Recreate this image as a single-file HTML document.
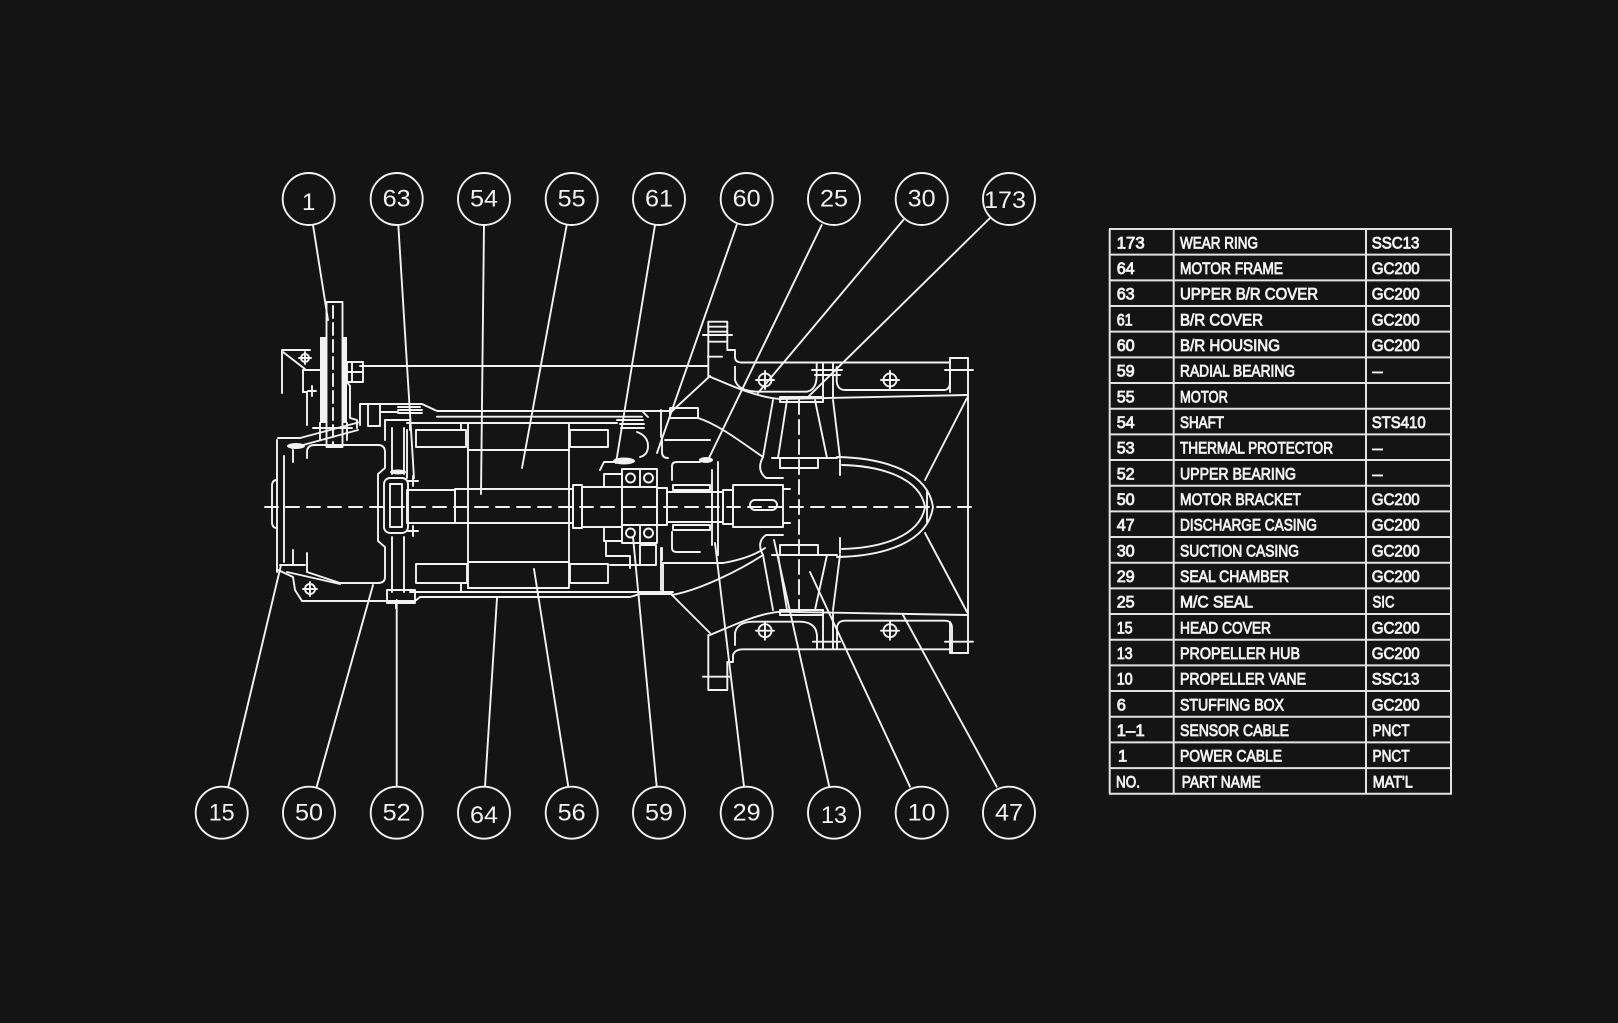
<!DOCTYPE html>
<html><head><meta charset="utf-8"><style>
html,body{margin:0;padding:0;background:#141414;}
svg{display:block;}
text{font-family:"Liberation Sans",Arial,sans-serif;fill:#f2f2f2;}
</style></head><body>
<svg width="1618" height="1023" viewBox="0 0 1618 1023" xmlns="http://www.w3.org/2000/svg">
<rect width="1618" height="1023" fill="#141414"/>
<g fill="none" stroke="#f2f2f2" stroke-width="1.9" stroke-linejoin="round" stroke-linecap="round">
<!-- circles top -->
<circle cx="308.7" cy="199" r="26"/><circle cx="396.7" cy="199" r="26"/><circle cx="484" cy="199" r="26"/>
<circle cx="571.7" cy="199" r="26"/><circle cx="659" cy="199" r="26"/><circle cx="746.7" cy="199" r="26"/>
<circle cx="834" cy="199" r="26"/><circle cx="921.7" cy="199" r="26"/><circle cx="1009" cy="199" r="26"/>
<!-- circles bottom -->
<circle cx="221.7" cy="812.7" r="26"/><circle cx="309" cy="812.7" r="26"/><circle cx="396.7" cy="812.7" r="26"/>
<circle cx="484" cy="812.7" r="26"/><circle cx="571.7" cy="812.7" r="26"/><circle cx="659" cy="812.7" r="26"/>
<circle cx="746.7" cy="812.7" r="26"/><circle cx="834" cy="812.7" r="26"/><circle cx="921.7" cy="812.7" r="26"/>
<circle cx="1009" cy="812.7" r="26"/>
<!-- leaders top -->
<line x1="313" y1="225" x2="328" y2="320"/>
<line x1="398.3" y1="225" x2="414" y2="478"/>
<line x1="484" y1="225" x2="481" y2="494"/>
<line x1="566.7" y1="225" x2="522" y2="468"/>
<line x1="655" y1="225" x2="616" y2="463"/>
<line x1="736.7" y1="225" x2="657" y2="453"/>
<line x1="821.7" y1="225" x2="708" y2="460"/>
<line x1="903.3" y1="220" x2="758" y2="393"/>
<line x1="990" y1="218" x2="807" y2="398"/>
<!-- leaders bottom -->
<line x1="228.3" y1="786.7" x2="281" y2="565"/>
<line x1="316.7" y1="786.7" x2="373" y2="585"/>
<line x1="396.7" y1="786.7" x2="396.7" y2="600"/>
<line x1="485" y1="786.7" x2="497" y2="598"/>
<line x1="568.3" y1="786.7" x2="534" y2="569"/>
<line x1="656.7" y1="786.7" x2="633" y2="537"/>
<line x1="744" y1="786.7" x2="715" y2="543"/>
<line x1="829.3" y1="786.7" x2="774" y2="540"/>
<line x1="910" y1="786.7" x2="810" y2="572"/>
<line x1="996.7" y1="786.7" x2="903" y2="615"/>

<!-- centerline -->
<line x1="265" y1="507" x2="977" y2="507" stroke-dasharray="13 8"/>

<!-- cable gland -->
<rect x="326.5" y="302" width="16" height="145"/>
<line x1="333" y1="306" x2="333" y2="444" stroke-dasharray="12 5"/>
<rect x="347" y="362" width="16" height="20"/>
<line x1="352" y1="362" x2="352" y2="382"/><line x1="347" y1="372" x2="363" y2="372"/>
<polyline points="282,393 282,350 310,350"/>
<line x1="283" y1="352" x2="305" y2="369"/>
<circle cx="305" cy="358" r="4"/><line x1="299" y1="358" x2="311" y2="358"/><line x1="305" y1="352" x2="305" y2="364"/>
<polyline points="303,392 303,370 320,370"/>
<polyline points="303,392 307,392 307,425"/>
<line x1="312" y1="386" x2="312" y2="396"/><line x1="308" y1="391" x2="316" y2="391"/>
<polyline points="347,382 350,386 350,418 357,420 357,428"/>
<line x1="320" y1="423" x2="320" y2="440"/><line x1="347" y1="423" x2="347" y2="440"/>
<line x1="313" y1="428" x2="352" y2="428"/>

<!-- top long line -->
<line x1="360" y1="366" x2="708" y2="366"/>

<!-- upper B/R cover & frame top -->
<polyline points="360,425 360,404 422,404 437,411 642,411 648,417"/>
<line x1="437" y1="416.7" x2="642" y2="416.7"/>
<line x1="407" y1="423" x2="617" y2="423"/>
<rect x="368" y="404" width="12" height="22"/>
<line x1="380" y1="412" x2="398" y2="412"/>
<line x1="398" y1="407" x2="420" y2="407"/><line x1="398" y1="410" x2="422" y2="410"/><line x1="398" y1="413" x2="422" y2="413"/>
<line x1="617" y1="420" x2="643" y2="420"/><line x1="620" y1="424" x2="644" y2="424"/><line x1="621" y1="428" x2="644" y2="428"/>
<path d="M637,432 Q648,436 648,446 Q648,455 640,457"/>

<!-- head cover -->
<line x1="277" y1="440" x2="277" y2="572"/>
<line x1="284" y1="456" x2="284" y2="562"/>
<path d="M277,480 Q272,480 272,486 V522 Q272,528 277,528"/>
<polyline points="278,438 300,438 360,422"/>
<line x1="292" y1="448" x2="358" y2="430"/>
<path d="M307,458 V452 Q307,445 315,445 H378 Q385,445 385,452 V468 L378,474 V541 L385,547 V577 Q385,583 378,583 H340 L307,572 V553"/>
<line x1="293" y1="450" x2="293" y2="462"/><line x1="293" y1="550" x2="293" y2="565"/>
<polyline points="278,570 293,577 295,590 302,601 415,601"/>
<line x1="287" y1="572" x2="340" y2="584"/>
<line x1="280" y1="565" x2="305" y2="565"/>
<circle cx="310" cy="589" r="5"/><line x1="303" y1="589" x2="317" y2="589"/><line x1="310" y1="582" x2="310" y2="596"/>

<!-- motor bracket & upper bearing -->
<line x1="392" y1="428" x2="392" y2="474"/><line x1="404" y1="428" x2="404" y2="474"/>
<line x1="392" y1="537" x2="392" y2="592"/><line x1="404" y1="537" x2="404" y2="592"/>
<polyline points="385,440 385,420 410,420 410,430"/>
<line x1="407" y1="430" x2="407" y2="478"/>
<rect x="384" y="478" width="24" height="55" rx="6"/>
<rect x="390" y="484" width="12" height="43"/>
<line x1="408" y1="481" x2="418" y2="481"/><line x1="408" y1="531" x2="418" y2="531"/>
<line x1="413" y1="476" x2="413" y2="486"/><line x1="413" y1="526" x2="413" y2="536"/>
<rect x="387" y="590" width="28" height="13"/>
<line x1="396" y1="603" x2="396" y2="608"/>

<!-- motor frame bottom -->
<line x1="410" y1="592" x2="633" y2="592"/>
<polyline points="415,601 420,597 630,597 640,594 672,594"/>

<!-- stator / rotor -->
<rect x="468" y="423" width="101" height="165"/>
<line x1="468" y1="450" x2="569" y2="450"/>
<line x1="468" y1="562" x2="569" y2="562"/>
<rect x="455" y="489" width="118" height="34"/>
<rect x="573" y="485" width="9" height="43"/>
<rect x="416" y="430" width="50" height="17"/>
<rect x="570" y="430" width="38" height="17"/>
<rect x="416" y="564" width="51" height="19"/>
<rect x="570" y="564" width="38" height="19"/>
<line x1="461" y1="423" x2="461" y2="430"/><line x1="461" y1="583" x2="461" y2="592"/>

<!-- shaft -->
<rect x="407" y="490" width="48" height="33"/>
<rect x="582" y="487" width="40" height="40"/>
<rect x="622" y="469" width="35" height="74"/>
<line x1="622" y1="487" x2="657" y2="487"/><line x1="622" y1="525" x2="657" y2="525"/>
<line x1="640" y1="469" x2="640" y2="487"/><line x1="640" y1="525" x2="640" y2="543"/>
<circle cx="630.5" cy="478" r="4.5"/><circle cx="648.5" cy="478" r="4.5"/>
<circle cx="630.5" cy="533" r="4.5"/><circle cx="648.5" cy="533" r="4.5"/>
<rect x="657" y="488" width="10" height="37"/>
<rect x="667" y="492" width="56" height="30"/>
<rect x="723" y="490" width="10" height="34"/>
<rect x="733" y="485" width="50" height="42"/>
<rect x="750" y="500" width="27" height="10" rx="5"/>
<line x1="783" y1="489" x2="790" y2="489"/><line x1="783" y1="523" x2="790" y2="523"/>

<!-- bearing housing bits -->
<rect x="604" y="474" width="18" height="13"/>
<rect x="604" y="527" width="18" height="14"/>
<polyline points="600,470 604,462 622,462"/>
<polyline points="606,541 606,556 630,556 630,568"/>
<line x1="610" y1="565" x2="640" y2="565"/>
<rect x="640" y="545" width="16" height="20"/>
<line x1="661" y1="410" x2="661" y2="437"/>
<line x1="661" y1="548" x2="661" y2="590"/>
<line x1="663" y1="563" x2="663" y2="593"/>
<line x1="590" y1="592" x2="673" y2="592"/>
<polyline points="663,563 723,563"/>
<path d="M723,563 C740,560 755,555 765,548"/>
<rect x="670" y="408" width="28" height="10"/>
<line x1="640" y1="411" x2="670" y2="411"/>
<line x1="665" y1="440" x2="710" y2="440"/>
<path d="M698,418 C720,425 745,445 763,457"/>
<path d="M672,480 V466 Q672,462 677,462 H700"/>
<path d="M672,532 V548 Q672,552 677,552 H700"/>
<rect x="673" y="485" width="37" height="5"/>
<rect x="673" y="525" width="37" height="5"/>
<line x1="718" y1="462" x2="718" y2="555"/>
<line x1="712" y1="470" x2="712" y2="545"/>
<path d="M662,437 V452 Q662,458 668,458"/>
<path d="M662,548 V560"/>

<!-- bell -->
<line x1="670" y1="413" x2="710" y2="376"/>
<path d="M672,595 C700,590 740,570 763,555"/>
<line x1="672" y1="595" x2="710" y2="633"/>

<!-- discharge casing upper -->
<rect x="708.3" y="321.7" width="19" height="20"/>
<line x1="708.3" y1="326.7" x2="727.3" y2="326.7"/><line x1="708.3" y1="331.7" x2="727.3" y2="331.7"/>
<line x1="703" y1="335" x2="732" y2="335"/>
<line x1="708.3" y1="341.7" x2="708.3" y2="376.7"/>
<line x1="708" y1="356.7" x2="722" y2="356.7"/>
<path d="M727.3,341.7 V350 H735 V357 Q735,362.5 742,362.5 H950"/>
<path d="M735,366.7 V380 Q738,391.7 760,391.7 H806.7 Q816.7,390 816.7,375 V363"/>
<path d="M836.7,367 V382 Q838,390 845,390 H945 Q950,389 950,382 V370"/>
<path d="M710,376.7 C730,385 755,397 780,399 L967,395"/>
<line x1="823" y1="363" x2="823" y2="402"/><line x1="833" y1="363" x2="833" y2="398"/>
<line x1="812" y1="370" x2="842" y2="370"/><line x1="815" y1="375" x2="840" y2="375"/>
<rect x="780" y="397" width="43" height="5"/>

<!-- discharge casing lower -->
<path d="M710,635 C730,627 755,614 780,611.7 L967,615"/>
<path d="M708.3,635 V690 H727.3 V662 H733 V655 Q735,649.3 743,649.3 H950"/>
<line x1="703" y1="676.7" x2="730" y2="676.7"/>
<path d="M735,645 V633 Q737,622 753,621.7 H800 Q817,622 817,637 V648"/>
<path d="M837,648 V627 Q838,620.7 845,620.7 H945 Q952,621 952,628 V652"/>
<line x1="823" y1="610" x2="823" y2="649"/><line x1="833" y1="612" x2="833" y2="649"/>
<line x1="813" y1="641.7" x2="840" y2="641.7"/>
<rect x="780" y="610" width="43" height="5"/>

<!-- right flange -->
<line x1="950" y1="358" x2="950" y2="392"/>
<line x1="950" y1="622" x2="950" y2="653"/>
<line x1="968" y1="358" x2="968" y2="653"/>
<line x1="950" y1="358" x2="968" y2="358"/><line x1="950" y1="653" x2="968" y2="653"/>
<line x1="945" y1="370" x2="973" y2="370"/><line x1="945" y1="641.7" x2="973" y2="641.7"/>

<!-- crosshairs -->
<circle cx="765" cy="380" r="6.5"/><line x1="756" y1="380" x2="774" y2="380"/><line x1="765" y1="371" x2="765" y2="389"/>
<circle cx="890" cy="380" r="6.5"/><line x1="881" y1="380" x2="899" y2="380"/><line x1="890" y1="371" x2="890" y2="389"/>
<circle cx="765" cy="630.7" r="6.5"/><line x1="756" y1="630.7" x2="774" y2="630.7"/><line x1="765" y1="621.7" x2="765" y2="639.7"/>
<circle cx="890" cy="630.7" r="6.5"/><line x1="881" y1="630.7" x2="899" y2="630.7"/><line x1="890" y1="621.7" x2="890" y2="639.7"/>

<!-- guide vanes -->
<line x1="925" y1="480" x2="967" y2="398"/>
<line x1="925" y1="533" x2="967" y2="612"/>

<!-- propeller vanes -->
<line x1="773" y1="400" x2="763" y2="457"/><line x1="787" y1="400" x2="778" y2="458"/>
<line x1="815" y1="400" x2="827" y2="458"/><line x1="833" y1="400" x2="840" y2="458"/>
<line x1="763" y1="555" x2="773" y2="610"/><line x1="778" y1="555" x2="787" y2="610"/>
<line x1="827" y1="555" x2="815" y2="610"/><line x1="840" y1="555" x2="833" y2="610"/>
<line x1="799" y1="400" x2="799" y2="612" stroke-dasharray="14 6"/>
<line x1="772" y1="458" x2="837" y2="458"/><line x1="772" y1="555" x2="837" y2="555"/>
<rect x="780" y="458" width="38" height="10"/>
<rect x="780" y="545" width="38" height="10"/>
<path d="M763,457 Q756,470 766,478 L783,478"/>
<path d="M763,555 Q756,542 766,535 L783,535"/>
<line x1="840" y1="460" x2="840" y2="475"/><line x1="840" y1="538" x2="840" y2="553"/>

<!-- nose -->
<path d="M837,457 C885,458 928,472 933,507 C928,542 885,556 837,557"/>
<path d="M842,465 C882,466 920,478 925,507 C920,536 882,548 842,549"/>
<line x1="927" y1="492" x2="927" y2="522"/>

<!-- table grid -->
<g stroke="#e2e2e2" stroke-width="2" stroke-linecap="butt">
<line x1="1109.7" y1="229" x2="1109.7" y2="793.7"/>
<line x1="1173.7" y1="229" x2="1173.7" y2="793.7"/>
<line x1="1366" y1="229" x2="1366" y2="793.7"/>
<line x1="1451" y1="229" x2="1451" y2="793.7"/>
<line x1="1109" y1="229" x2="1452" y2="229"/>
<line x1="1109" y1="254.67" x2="1452" y2="254.67"/>
<line x1="1109" y1="280.34" x2="1452" y2="280.34"/>
<line x1="1109" y1="306.01" x2="1452" y2="306.01"/>
<line x1="1109" y1="331.68" x2="1452" y2="331.68"/>
<line x1="1109" y1="357.35" x2="1452" y2="357.35"/>
<line x1="1109" y1="383.02" x2="1452" y2="383.02"/>
<line x1="1109" y1="408.69" x2="1452" y2="408.69"/>
<line x1="1109" y1="434.36" x2="1452" y2="434.36"/>
<line x1="1109" y1="460.03" x2="1452" y2="460.03"/>
<line x1="1109" y1="485.7" x2="1452" y2="485.7"/>
<line x1="1109" y1="511.37" x2="1452" y2="511.37"/>
<line x1="1109" y1="537.04" x2="1452" y2="537.04"/>
<line x1="1109" y1="562.71" x2="1452" y2="562.71"/>
<line x1="1109" y1="588.38" x2="1452" y2="588.38"/>
<line x1="1109" y1="614.05" x2="1452" y2="614.05"/>
<line x1="1109" y1="639.72" x2="1452" y2="639.72"/>
<line x1="1109" y1="665.39" x2="1452" y2="665.39"/>
<line x1="1109" y1="691.06" x2="1452" y2="691.06"/>
<line x1="1109" y1="716.73" x2="1452" y2="716.73"/>
<line x1="1109" y1="742.4" x2="1452" y2="742.4"/>
<line x1="1109" y1="768.07" x2="1452" y2="768.07"/>
<line x1="1109" y1="793.74" x2="1452" y2="793.74"/>
</g>
</g>

<!-- filled blobs -->
<g fill="#f2f2f2" stroke="none">
<rect x="320" y="337" width="6" height="86"/>
<rect x="342" y="337" width="5" height="86"/>
<ellipse cx="296" cy="446" rx="9" ry="3"/>
<ellipse cx="624" cy="461" rx="11" ry="3.5"/>
<ellipse cx="706" cy="460" rx="7" ry="3"/>
<ellipse cx="398" cy="472" rx="8" ry="2.5"/>
</g>

<!-- circle numbers -->
<g font-size="24" text-anchor="middle">
<text x="308.7" y="210">1</text>
<text x="396.7" y="206.7" textLength="28" lengthAdjust="spacingAndGlyphs">63</text>
<text x="484" y="206.7" textLength="28" lengthAdjust="spacingAndGlyphs">54</text>
<text x="571.7" y="206.7" textLength="28" lengthAdjust="spacingAndGlyphs">55</text>
<text x="659" y="206.7" textLength="28" lengthAdjust="spacingAndGlyphs">61</text>
<text x="746.7" y="206.7" textLength="28" lengthAdjust="spacingAndGlyphs">60</text>
<text x="834" y="206.7" textLength="28" lengthAdjust="spacingAndGlyphs">25</text>
<text x="921.7" y="206.7" textLength="28" lengthAdjust="spacingAndGlyphs">30</text>
<text x="1005" y="208" textLength="42" lengthAdjust="spacingAndGlyphs">173</text>
<text x="221.7" y="820.7" textLength="26" lengthAdjust="spacingAndGlyphs">15</text>
<text x="309" y="820.7" textLength="28" lengthAdjust="spacingAndGlyphs">50</text>
<text x="396.7" y="820.7" textLength="28" lengthAdjust="spacingAndGlyphs">52</text>
<text x="484" y="823" textLength="28" lengthAdjust="spacingAndGlyphs">64</text>
<text x="571.7" y="820.7" textLength="28" lengthAdjust="spacingAndGlyphs">56</text>
<text x="659" y="820.7" textLength="28" lengthAdjust="spacingAndGlyphs">59</text>
<text x="746.7" y="820.7" textLength="28" lengthAdjust="spacingAndGlyphs">29</text>
<text x="834" y="823" textLength="26" lengthAdjust="spacingAndGlyphs">13</text>
<text x="921.7" y="820.7" textLength="28" lengthAdjust="spacingAndGlyphs">10</text>
<text x="1009" y="820.7" textLength="28" lengthAdjust="spacingAndGlyphs">47</text>
</g>

<!-- table text -->
<g font-size="16.5" stroke="#f2f2f2" stroke-width="0.85">
<text x="1116.7" y="248.3" textLength="28" lengthAdjust="spacingAndGlyphs">173</text>
<text x="1180" y="248.3" textLength="78" lengthAdjust="spacingAndGlyphs">WEAR RING</text>
<text x="1371.7" y="248.3" textLength="47.7" lengthAdjust="spacingAndGlyphs">SSC13</text>

<text x="1116.7" y="274" textLength="18" lengthAdjust="spacingAndGlyphs">64</text>
<text x="1180" y="274" textLength="103" lengthAdjust="spacingAndGlyphs">MOTOR FRAME</text>
<text x="1371.7" y="274" textLength="48" lengthAdjust="spacingAndGlyphs">GC200</text>

<text x="1116.7" y="299.6" textLength="18" lengthAdjust="spacingAndGlyphs">63</text>
<text x="1180" y="299.6" textLength="138" lengthAdjust="spacingAndGlyphs">UPPER B/R COVER</text>
<text x="1371.7" y="299.6" textLength="48" lengthAdjust="spacingAndGlyphs">GC200</text>

<text x="1116.7" y="325.3" textLength="16" lengthAdjust="spacingAndGlyphs">61</text>
<text x="1180" y="325.3" textLength="83" lengthAdjust="spacingAndGlyphs">B/R COVER</text>
<text x="1371.7" y="325.3" textLength="48" lengthAdjust="spacingAndGlyphs">GC200</text>

<text x="1116.7" y="351" textLength="18" lengthAdjust="spacingAndGlyphs">60</text>
<text x="1180" y="351" textLength="100" lengthAdjust="spacingAndGlyphs">B/R HOUSING</text>
<text x="1371.7" y="351" textLength="48" lengthAdjust="spacingAndGlyphs">GC200</text>

<text x="1116.7" y="376.7" textLength="18" lengthAdjust="spacingAndGlyphs">59</text>
<text x="1180" y="376.7" textLength="115" lengthAdjust="spacingAndGlyphs">RADIAL BEARING</text>
<text x="1372.5" y="376.7" textLength="10" lengthAdjust="spacingAndGlyphs">–</text>

<text x="1116.7" y="402.3" textLength="18" lengthAdjust="spacingAndGlyphs">55</text>
<text x="1180" y="402.3" textLength="48" lengthAdjust="spacingAndGlyphs">MOTOR</text>

<text x="1116.7" y="428" textLength="18" lengthAdjust="spacingAndGlyphs">54</text>
<text x="1180" y="428" textLength="44" lengthAdjust="spacingAndGlyphs">SHAFT</text>
<text x="1371.7" y="428" textLength="54" lengthAdjust="spacingAndGlyphs">STS410</text>

<text x="1116.7" y="453.7" textLength="18" lengthAdjust="spacingAndGlyphs">53</text>
<text x="1180" y="453.7" textLength="153" lengthAdjust="spacingAndGlyphs">THERMAL PROTECTOR</text>
<text x="1372.5" y="453.7" textLength="10" lengthAdjust="spacingAndGlyphs">–</text>

<text x="1116.7" y="479.3" textLength="18" lengthAdjust="spacingAndGlyphs">52</text>
<text x="1180" y="479.3" textLength="116" lengthAdjust="spacingAndGlyphs">UPPER BEARING</text>
<text x="1372.5" y="479.3" textLength="10" lengthAdjust="spacingAndGlyphs">–</text>

<text x="1116.7" y="505" textLength="18" lengthAdjust="spacingAndGlyphs">50</text>
<text x="1180" y="505" textLength="121" lengthAdjust="spacingAndGlyphs">MOTOR BRACKET</text>
<text x="1371.7" y="505" textLength="48" lengthAdjust="spacingAndGlyphs">GC200</text>

<text x="1116.7" y="530.7" textLength="18" lengthAdjust="spacingAndGlyphs">47</text>
<text x="1180" y="530.7" textLength="137" lengthAdjust="spacingAndGlyphs">DISCHARGE CASING</text>
<text x="1371.7" y="530.7" textLength="48" lengthAdjust="spacingAndGlyphs">GC200</text>

<text x="1116.7" y="556.3" textLength="18" lengthAdjust="spacingAndGlyphs">30</text>
<text x="1180" y="556.3" textLength="119" lengthAdjust="spacingAndGlyphs">SUCTION CASING</text>
<text x="1371.7" y="556.3" textLength="48" lengthAdjust="spacingAndGlyphs">GC200</text>

<text x="1116.7" y="582" textLength="18" lengthAdjust="spacingAndGlyphs">29</text>
<text x="1180" y="582" textLength="109" lengthAdjust="spacingAndGlyphs">SEAL CHAMBER</text>
<text x="1371.7" y="582" textLength="48" lengthAdjust="spacingAndGlyphs">GC200</text>

<text x="1116.7" y="607.7" textLength="18" lengthAdjust="spacingAndGlyphs">25</text>
<text x="1180" y="607.7" textLength="73" lengthAdjust="spacingAndGlyphs">M/C SEAL</text>
<text x="1372.5" y="607.7" textLength="22" lengthAdjust="spacingAndGlyphs">SIC</text>

<text x="1116.7" y="633.3" textLength="16" lengthAdjust="spacingAndGlyphs">15</text>
<text x="1180" y="633.3" textLength="91" lengthAdjust="spacingAndGlyphs">HEAD COVER</text>
<text x="1371.7" y="633.3" textLength="48" lengthAdjust="spacingAndGlyphs">GC200</text>

<text x="1116.7" y="659" textLength="16" lengthAdjust="spacingAndGlyphs">13</text>
<text x="1180" y="659" textLength="120" lengthAdjust="spacingAndGlyphs">PROPELLER HUB</text>
<text x="1371.7" y="659" textLength="48" lengthAdjust="spacingAndGlyphs">GC200</text>

<text x="1116.7" y="684.7" textLength="16" lengthAdjust="spacingAndGlyphs">10</text>
<text x="1180" y="684.7" textLength="126" lengthAdjust="spacingAndGlyphs">PROPELLER VANE</text>
<text x="1371.7" y="684.7" textLength="47.7" lengthAdjust="spacingAndGlyphs">SSC13</text>

<text x="1116.7" y="710.3">6</text>
<text x="1180" y="710.3" textLength="104" lengthAdjust="spacingAndGlyphs">STUFFING BOX</text>
<text x="1371.7" y="710.3" textLength="48" lengthAdjust="spacingAndGlyphs">GC200</text>

<text x="1116.7" y="736" textLength="28" lengthAdjust="spacingAndGlyphs">1–1</text>
<text x="1180" y="736" textLength="109" lengthAdjust="spacingAndGlyphs">SENSOR CABLE</text>
<text x="1372.5" y="736" textLength="37" lengthAdjust="spacingAndGlyphs">PNCT</text>

<text x="1118" y="761.7">1</text>
<text x="1180" y="761.7" textLength="102" lengthAdjust="spacingAndGlyphs">POWER CABLE</text>
<text x="1372.5" y="761.7" textLength="37" lengthAdjust="spacingAndGlyphs">PNCT</text>

<text x="1116" y="787.3" textLength="24" lengthAdjust="spacingAndGlyphs">NO.</text>
<text x="1181.7" y="787.3" textLength="79" lengthAdjust="spacingAndGlyphs">PART NAME</text>
<text x="1372.7" y="787.3" textLength="40" lengthAdjust="spacingAndGlyphs">MAT'L</text>
</g>
</svg>
</body></html>
